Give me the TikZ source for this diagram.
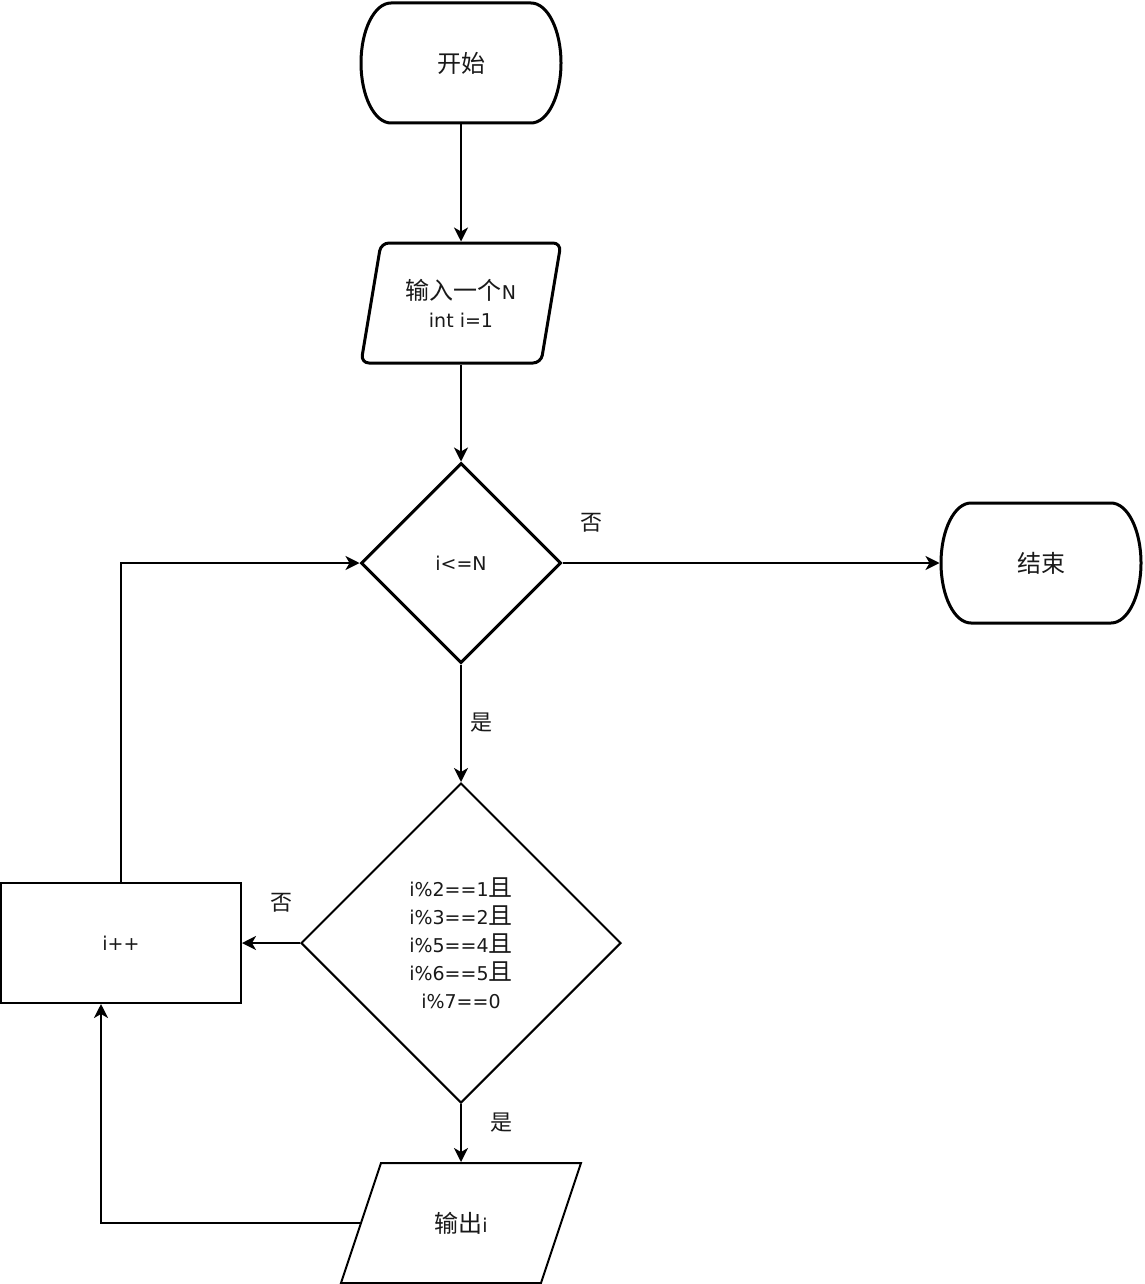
\documentclass[tikz,border=0pt]{standalone}
\usepackage{fontspec}
\setmainfont{DejaVu Sans}
\newfontfamily\cjkfont{Noto Sans CJK SC}
\usetikzlibrary{arrows.meta,shapes.geometric}
\newcommand{\zh}[1]{{\cjkfont\fontsize{24}{28}\selectfont #1}}
\begin{document}
\begin{tikzpicture}[x=1pt,y=1pt,
  txt/.style={font=\fontsize{19}{28}\selectfont, text=black!90, inner sep=0pt, align=center},
  thickline/.style={line width=3pt, line join=round},
  thinline/.style={line width=2pt},
  conn/.style={line width=2pt, -{Stealth[length=14pt,width=14pt,inset=4pt]}},
  lbl/.style={font=\cjkfont\fontsize{22}{26}\selectfont, text=black!90, inner sep=0pt},
  ]
\useasboundingbox (0,0) rectangle (1144,-1284);

% start terminator
\draw[thickline] (391,-3) -- (531,-3) arc[start angle=90,end angle=-90,x radius=30,y radius=60]
  -- (391,-123) arc[start angle=270,end angle=90,x radius=30,y radius=60] -- cycle;
\node[txt] (start) at (461,-63) {\zh{开始}};
\coordinate (startS) at (461,-124.5);

% input parallelogram
\draw[thickline, rounded corners=8pt] (381,-243) -- (561,-243) -- (541,-363) -- (361,-363) -- cycle;
\node[txt] (input) at (461,-303) {\zh{输入一个}N\\int i=1};
\coordinate (inN) at (461,-241.5);
\coordinate (inS) at (461,-364.5);

% decision 1
\node[diamond, draw, line width=3pt, minimum width=200pt, minimum height=200pt, txt] (d1) at (461,-563) {i<=N};

% end terminator
\draw[thickline] (971,-503) -- (1111,-503) arc[start angle=90,end angle=-90,x radius=30,y radius=60]
  -- (971,-623) arc[start angle=270,end angle=90,x radius=30,y radius=60] -- cycle;
\node[txt] (end) at (1041,-563) {\zh{结束}};
\coordinate (endW) at (939.5,-563);

% decision 2
\node[diamond, draw, thinline, minimum width=320pt, minimum height=320pt, txt] (d2) at (461,-943)
  {i\%2==1\zh{且}\\i\%3==2\zh{且}\\i\%5==4\zh{且}\\i\%6==5\zh{且}\\i\%7==0};

% increment box
\node[draw, thinline, minimum width=240pt, minimum height=120pt, txt] (inc) at (121,-943) {i++};
\coordinate (incS) at (101,-1004);

% output parallelogram
\draw[thinline] (381,-1163) -- (581,-1163) -- (541,-1283) -- (341,-1283) -- cycle;
\node[txt] (out) at (461,-1223) {\zh{输出}i};
\coordinate (outN) at (461,-1162);
\coordinate (outW) at (361,-1223);

% connectors
\draw[conn] (startS) -- (inN);
\draw[conn] (inS) -- (d1.north);
\draw[conn] (d1.east) -- (endW);
\draw[conn] (d1.south) -- (d2.north);
\draw[conn] (d2.west) -- (inc.east);
\draw[conn] (d2.south) -- (outN);
\draw[conn] (outW) -| (incS);
\draw[conn] (inc.north) |- (d1.west);

% labels
\node[lbl] (no1) at (591,-523) {否};
\node[lbl] (yes1) at (481,-723) {是};
\node[lbl] (no2) at (281,-903) {否};
\node[lbl] (yes2) at (501,-1123) {是};
\end{tikzpicture}
\end{document}
